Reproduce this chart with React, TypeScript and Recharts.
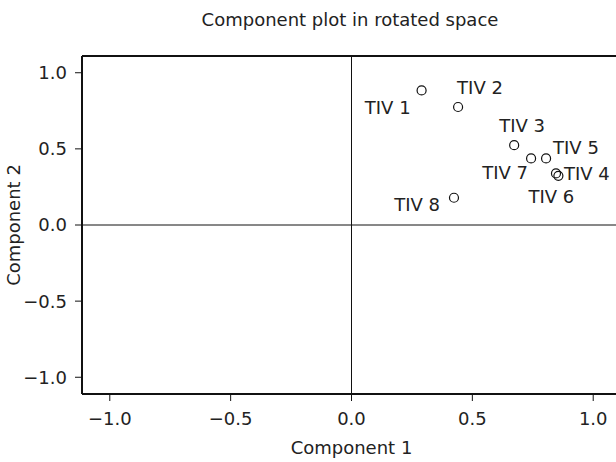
import React from "react";
import {
  ScatterChart,
  Scatter,
  XAxis,
  YAxis,
  ReferenceLine,
  LabelList,
} from "recharts";

const names = ["TIV 1", "TIV 2", "TIV 3", "TIV 4", "TIV 5", "TIV 6", "TIV 7", "TIV 8"];
const comp1 = [0.29, 0.441, 0.673, 0.846, 0.805, 0.856, 0.743, 0.424];
const comp2 = [0.884, 0.775, 0.524, 0.339, 0.437, 0.323, 0.437, 0.179];
const ticks = [-1, -0.5, 0, 0.5, 1];

const data = names.map((name, i) => ({ name, x: comp1[i], y: comp2[i] }));

// where each point's label sits relative to its marker
const labelPlacement: Record<string, { anchor: string; dx: number; dy: number }> = {
  "TIV 1": { anchor: "end", dx: -11, dy: 17 },
  "TIV 2": { anchor: "start", dx: -1, dy: -20 },
  "TIV 3": { anchor: "middle", dx: 8, dy: -20 },
  "TIV 4": { anchor: "start", dx: 8, dy: 0 },
  "TIV 5": { anchor: "start", dx: 7, dy: -11 },
  "TIV 6": { anchor: "middle", dx: -7, dy: 21 },
  "TIV 7": { anchor: "end", dx: -3, dy: 14 },
  "TIV 8": { anchor: "end", dx: -14, dy: 7 },
};

const FONT = "'DejaVu Sans', sans-serif";
const TEXT = "#222";
const SIZE = 18;

const fmt = (v: number) => (v < 0 ? "\u2212" + Math.abs(v).toFixed(1) : v.toFixed(1));

const Marker = (props: any) => (
  <circle cx={props.cx} cy={props.cy} r={4.5} fill="none" stroke="#111" strokeWidth={1.2} />
);

const PointLabel = (props: any) => {
  const { x, y, width, height, value } = props;
  const p = labelPlacement[value] || { anchor: "start", dx: 8, dy: 0 };
  const cx = x + (width || 0) / 2;
  const cy = y + (height || 0) / 2;
  return (
    <text
      x={cx + p.dx}
      y={cy + p.dy}
      textAnchor={p.anchor as any}
      dominantBaseline="central"
      fontFamily={FONT}
      fontSize={SIZE}
      fill={TEXT}
    >
      {value}
    </text>
  );
};

export default function App() {
  const tickStyle = { fontFamily: FONT, fontSize: SIZE, fill: TEXT };
  return (
    <div style={{ position: "absolute", left: 0, top: 0, width: 616, height: 462, overflow: "hidden", background: "#fff" }}>
      <ScatterChart width={621} height={462} margin={{ top: 56, right: 0, bottom: 0, left: 0 }}>
        <text x={350} y={19} textAnchor="middle" dominantBaseline="central" fontFamily={FONT} fontSize={SIZE} fill={TEXT}>
          Component plot in rotated space
        </text>
        <XAxis
          type="number"
          dataKey="x"
          domain={[-1.115, 1.115]}
          ticks={ticks}
          tickFormatter={fmt}
          allowDataOverflow
          height={68}
          tickSize={7}
          tickMargin={11}
          axisLine={{ stroke: "#111", strokeWidth: 2 }}
          tickLine={{ stroke: "#111", strokeWidth: 1 }}
          tick={tickStyle}
          label={{ value: "Component 1", position: "insideBottom", offset: 8, style: { ...tickStyle, textAnchor: "middle" } }}
        />
        <YAxis
          type="number"
          dataKey="y"
          domain={[-1.11, 1.11]}
          ticks={ticks}
          tickFormatter={fmt}
          allowDataOverflow
          width={82}
          tickSize={7}
          tickMargin={8}
          axisLine={{ stroke: "#111", strokeWidth: 2 }}
          tickLine={{ stroke: "#111", strokeWidth: 1 }}
          tick={tickStyle}
          label={{ value: "Component 2", angle: -90, position: "insideLeft", offset: 14, style: { ...tickStyle, textAnchor: "middle" } }}
        />
        <ReferenceLine y={1.11} stroke="#111" strokeWidth={2} />
        <ReferenceLine x={0} stroke="#111" strokeWidth={1} />
        <ReferenceLine y={0} stroke="#111" strokeWidth={1} />
        <Scatter data={data} shape={Marker} isAnimationActive={false}>
          <LabelList dataKey="name" content={PointLabel} />
        </Scatter>
      </ScatterChart>
    </div>
  );
}
